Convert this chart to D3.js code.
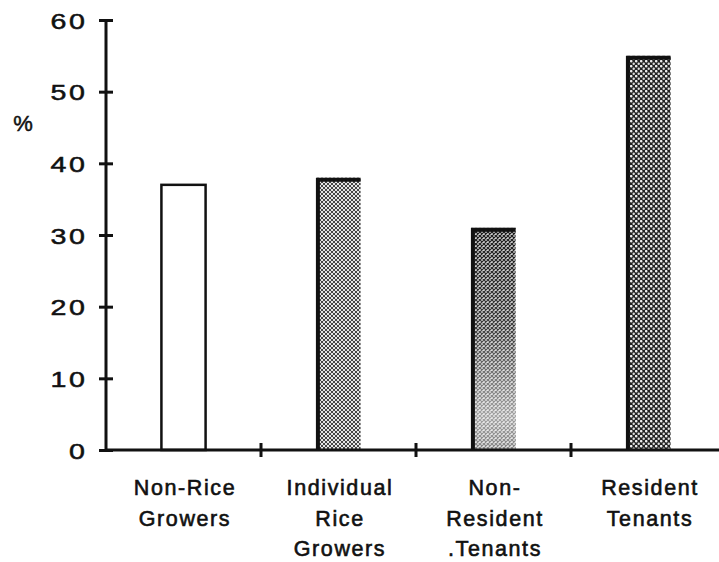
<!DOCTYPE html>
<html>
<head>
<meta charset="utf-8">
<script src="https://cdn.jsdelivr.net/npm/d3@7"></script>
<style>
  body { margin: 0; background: #fff; }
  text { font-family: "Liberation Sans", Arial, sans-serif; fill: #111; }
</style>
</head>
<body>
<div id="chart"></div>
<script>
// data
const categories = ["Non-Rice Growers", "Individual Rice Growers", "Non-Resident Tenants", "Resident Tenants"];
const labelLines = [["Non-Rice", "Growers"], ["Individual", "Rice", "Growers"], ["Non-", "Resident", ".Tenants"], ["Resident", "Tenants"]];
const values = [37, 38, 31, 55];
const yTicks = [0, 10, 20, 30, 40, 50, 60];
const fills = ["white", "url(#hatch)", "url(#speck)", "url(#stipple)"];

const width = 719, height = 562;
const svg = d3.select("#chart").append("svg")
    .attr("width", width)
    .attr("height", height);

const defs = svg.append("defs");

// fine crosshatch (bar 2)
const hatch = defs.append("pattern").attr("id", "hatch")
    .attr("patternUnits", "userSpaceOnUse").attr("width", 4).attr("height", 4);
hatch.append("rect").attr("width", 4).attr("height", 4).attr("fill", "#e4e4e4");
hatch.append("path").attr("d", "M0,0L4,4M4,0L0,4").attr("stroke", "#333").attr("stroke-width", 0.9);

// stipple (bar 4)
const stip = defs.append("pattern").attr("id", "stipple")
    .attr("patternUnits", "userSpaceOnUse").attr("width", 5).attr("height", 5);
stip.append("rect").attr("width", 5).attr("height", 5).attr("fill", "#222");
stip.append("circle").attr("cx", 1.2).attr("cy", 1.2).attr("r", 1.3).attr("fill", "#eee");
stip.append("circle").attr("cx", 3.7).attr("cy", 3.7).attr("r", 1.2).attr("fill", "#ddd");

// bar 3: crosshatch fading to light toward the bottom
const fade = defs.append("linearGradient").attr("id", "fade")
    .attr("x1", 0).attr("y1", 0).attr("x2", 0).attr("y2", 1);
fade.append("stop").attr("offset", "0%").attr("stop-color", "#fff").attr("stop-opacity", 0);
fade.append("stop").attr("offset", "45%").attr("stop-color", "#fff").attr("stop-opacity", 0.15);
fade.append("stop").attr("offset", "85%").attr("stop-color", "#fff").attr("stop-opacity", 0.6);
fade.append("stop").attr("offset", "100%").attr("stop-color", "#fff").attr("stop-opacity", 0.45);
const speck = defs.append("pattern").attr("id", "speck")
    .attr("patternUnits", "userSpaceOnUse").attr("width", 4).attr("height", 4);
speck.append("rect").attr("width", 4).attr("height", 4).attr("fill", "#cfcfcf");
speck.append("path").attr("d", "M0,0L4,4M4,0L0,4").attr("stroke", "#1a1a1a").attr("stroke-width", 1.2);

const x = d3.scaleBand()
    .domain(categories)
    .range([106, 726])
    .paddingInner(0.715)
    .paddingOuter(0.3575);

const y = d3.scaleLinear()
    .domain([0, 60])
    .range([450, 20]);

// bars
const bars = svg.append("g");
categories.forEach((c, i) => {
    const x0 = x(c), w = x.bandwidth(), yt = y(values[i]), h = y(0) - y(values[i]);
    bars.append("rect")
        .attr("x", x0).attr("y", yt)
        .attr("width", w).attr("height", h)
        .attr("fill", fills[i])
        .attr("stroke", i === 0 ? "#111" : "none")
        .attr("stroke-width", 2.5);
    if (i === 2) {
        bars.append("rect")
            .attr("x", x0).attr("y", yt)
            .attr("width", w).attr("height", h)
            .attr("fill", "url(#fade)");
    }
    if (i > 0) {
        // heavy left and top edge as in the print
        bars.append("path")
            .attr("d", `M${x0 + 1.5},${y(0)}V${yt + 2}H${x0 + w}`)
            .attr("fill", "none")
            .attr("stroke", "#111")
            .attr("stroke-width", 4);
    }
});

// y axis
const yAxis = svg.append("g")
    .attr("transform", "translate(106,0)")
    .call(d3.axisLeft(y).tickValues(yTicks).tickSize(7).tickFormat(d3.format("d")));
yAxis.select(".domain").attr("stroke", "#111").attr("stroke-width", 3)
    .attr("d", `M0,${y(60)}V${y(0)}`);
yAxis.selectAll(".tick line").attr("x1", -7).attr("x2", 7)
    .attr("stroke", "#111").attr("stroke-width", 3);
// wide digits, as in the print
yAxis.selectAll(".tick text")
    .attr("x", 0)
    .attr("dy", "0.37em")
    .attr("transform", "translate(-18.5,0) scale(1.3,1)")
    .attr("font-size", 22)
    .attr("letter-spacing", 2)
    .attr("fill", "#111")
    .attr("stroke", "#111").attr("stroke-width", 0.5)
    .attr("font-family", "Liberation Sans, Arial, sans-serif");

svg.append("text")
    .attr("x", 23).attr("y", 131)
    .attr("text-anchor", "middle")
    .attr("font-size", 22)
    .attr("stroke", "#111").attr("stroke-width", 0.5)
    .text("%");

// x axis
svg.append("line")
    .attr("x1", 105).attr("x2", width)
    .attr("y1", y(0)).attr("y2", y(0))
    .attr("stroke", "#111").attr("stroke-width", 3);
const bounds = categories.slice(0, 3).map(c => x(c) + x.bandwidth() / 2 + x.step() / 2);
svg.append("g").selectAll("line")
    .data(bounds)
    .join("line")
    .attr("x1", d => d).attr("x2", d => d)
    .attr("y1", y(0) - 7).attr("y2", y(0) + 7)
    .attr("stroke", "#111").attr("stroke-width", 3);

// category labels
const lab = svg.append("g");
categories.forEach((c, i) => {
    const cx = x(c) + x.bandwidth() / 2;
    labelLines[i].forEach((t, j) => {
        lab.append("text")
            .attr("x", cx + 1.5)
            .attr("y", 495 + j * 30.5)
            .attr("text-anchor", "middle")
            .attr("font-size", 21.5)
            .attr("letter-spacing", 1.6)
            .attr("stroke", "#111").attr("stroke-width", 0.6)
            .text(t);
    });
});
</script>
</body>
</html>
